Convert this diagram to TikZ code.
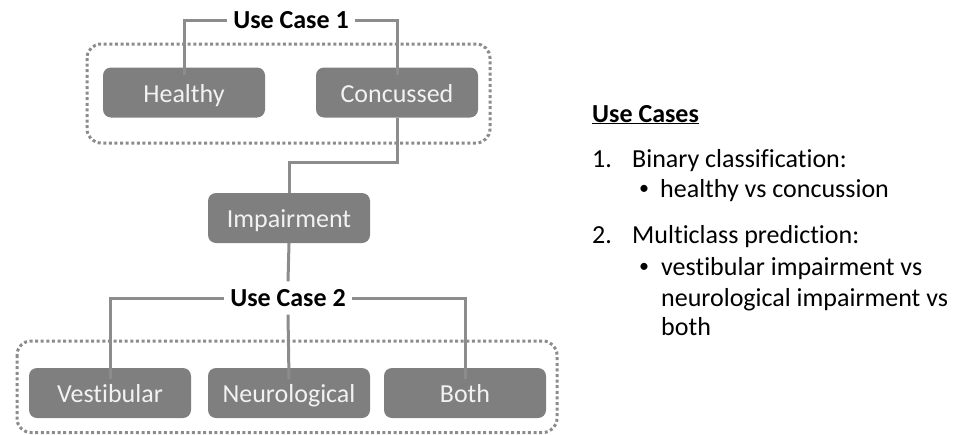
\documentclass[tikz,border=0pt]{standalone}
\usepackage{fontspec}
\setmainfont[Ligatures={NoCommon}]{Carlito}
\definecolor{boxgray}{HTML}{7F7F7F}
\definecolor{linegray}{HTML}{8C8C8C}
\definecolor{boxtext}{HTML}{F2F2F2}
\tikzset{
  catbox/.style={rectangle, rounded corners=8pt, fill=boxgray, draw=none,
    minimum width=162pt, minimum height=50pt, inner sep=0pt,
    text=boxtext, font=\fontsize{26}{30}\selectfont, text height=19pt, text depth=0pt},
  uclabel/.style={font=\bfseries\fontsize{26}{30}\selectfont, text height=17pt, text depth=0pt,
    inner xsep=6pt, inner ysep=8pt},
  conn/.style={draw=linegray, line width=3pt},
  group/.style={draw=linegray, line width=3pt, dash pattern=on 3pt off 2.6pt, rounded corners=14pt},
  listtext/.style={anchor=base west, inner sep=0pt, font=\fontsize{26}{30}\selectfont},
  bulletmark/.style={anchor=base, inner sep=0pt, font=\fontsize{20}{24}\selectfont}
}
\begin{document}
\begin{tikzpicture}[x=1pt,y=-1pt]
\useasboundingbox (0,0) rectangle (963,434);
% group frames
\draw[group] (87,44) rectangle (490,143);
\draw[group] (17,341) rectangle (557,432.5);
% nodes
\node[catbox] (healthy) at (184,92.5) {Healthy};
\node[catbox] (concussed) at (397,92.5) {Concussed};
\node[catbox] (impair) at (289,218) {Impairment};
\node[catbox] (vest) at (110,393) {Vestibular};
\node[catbox] (neuro) at (289,393) {Neurological};
\node[catbox] (both) at (465,393) {Both};
\node[uclabel] (uc1) at (291,20) {Use Case 1};
\node[uclabel] (uc2) at (288,298) {Use Case 2};
\coordinate (j1) at (289,162);
% connectors
\draw[conn] ([yshift=-8pt]healthy.north) |- (uc1.west);
\draw[conn] (uc1.east) -| ([yshift=-8pt]concussed.north);
\draw[conn] (concussed.south) |- (j1) -- (impair.north);
\draw[conn] (impair.south) -- (uc2.north);
\draw[conn] (uc2.west) -| ([yshift=-11pt]vest.north);
\draw[conn] (uc2.south) -- ([yshift=-11pt]neuro.north);
\draw[conn] (uc2.east) -| ([yshift=-11pt]both.north);
% right-hand text
\node[listtext, font=\bfseries\fontsize{26}{30}\selectfont] (title) at (592,122) {\underline{Use Cases}};
\node[listtext] (n1) at (592,167) {1.};
\node[listtext] (t1) at (632,167) {Binary classification:};
\node[bulletmark] (b1) at (644,194) {•};
\node[listtext] (s1) at (660,197) {healthy vs concussion};
\node[listtext] (n2) at (592,243) {2.};
\node[listtext] (t2) at (632,243) {Multiclass prediction:};
\node[bulletmark] (b2) at (644,272) {•};
\node[listtext] (s2a) at (661,275) {vestibular impairment vs};
\node[listtext] (s2b) at (661,306) {neurological impairment vs};
\node[listtext] (s2c) at (661,335) {both};
\end{tikzpicture}
\end{document}
